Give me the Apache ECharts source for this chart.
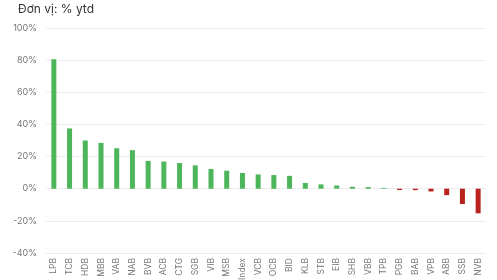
<!DOCTYPE html>
<html><head><meta charset="utf-8">
<script src="https://cdn.jsdelivr.net/npm/echarts@6/dist/echarts.min.js"></script>
<style>html,body{margin:0;padding:0;background:#fff}#c{width:497px;height:280px}</style>
</head><body><div id="c"></div>
<script>
var categories = ["LPB","TCB","HDB","MBB","VAB","NAB","BVB","ACB","CTG","SGB","VIB","MSB","Index","VCB","OCB","BID","KLB","STB","EIB","SHB","VBB","TPB","PGB","BAB","VPB","ABB","SSB","NVB"];
var values = [80.5,37.5,30,28.5,25.2,24,17.3,16.9,16,14.5,12.3,11.2,9.8,8.9,8.5,8,3.6,2.7,2,1.2,1,0.5,-0.8,-0.9,-1.7,-4,-9.5,-15.3];
var yTicks = [-40,-20,0,20,40,60,80,100];
var chart = echarts.init(document.getElementById('c'));
chart.setOption({
  animation:false,
  title:{text:'Đơn vị: % ytd',left:13,top:-2,textStyle:{fontFamily:'Inter',fontSize:12,fontWeight:'normal',color:'#333'}},
  grid:{left:46,right:11,top:28,bottom:27,outerBoundsMode:'none',containLabel:false},
  xAxis:{type:'category',data:categories,axisLine:{show:false},axisTick:{show:false},
    axisLabel:{rotate:90,fontSize:8.5,color:'#777',fontFamily:'Inter',margin:5,interval:0}},
  yAxis:{type:'value',min:yTicks[0],max:yTicks[yTicks.length-1],interval:20,
    axisLabel:{formatter:'{value}%',fontSize:9,color:'#777',fontFamily:'Inter',margin:9},
    splitLine:{lineStyle:{color:'#ececec'}}},
  series:[{type:'bar',barWidth:5,data:values.map(function(v){return {value:v,itemStyle:{color:v>=0?'#4db55a':'#b8221c'}};})}]
});
</script></body></html>
